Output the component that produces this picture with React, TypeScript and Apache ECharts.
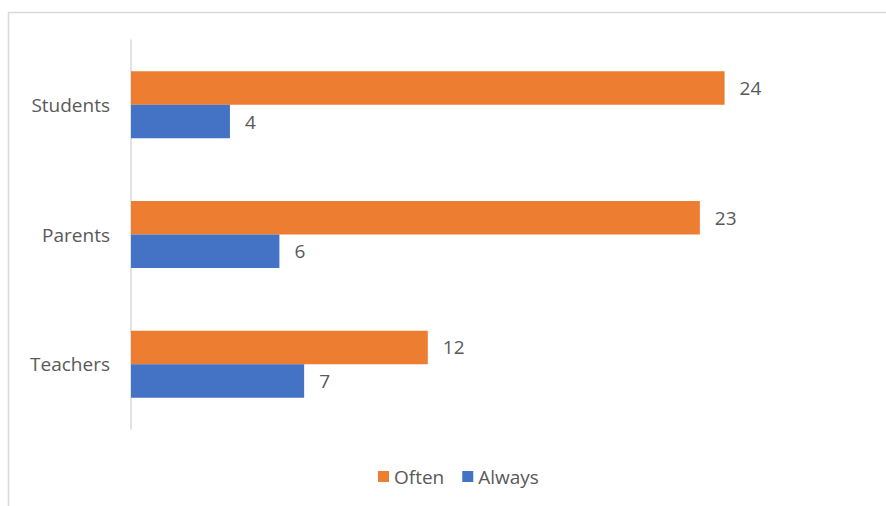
import React, { useEffect, useRef } from "react";
import * as echarts from "echarts";

const categories = ["Teachers", "Parents", "Students"];
const oftenValues = [12, 23, 24];
const alwaysValues = [7, 6, 4];
const seriesNames = ["Often", "Always"];

export default function App() {
  const ref = useRef<HTMLDivElement>(null);
  useEffect(() => {
    const chart = echarts.init(ref.current!, null, { renderer: "svg" });
    const font = "Open Sans";
    const labelStyle = {
      show: true,
      position: "right" as const,
      distance: 15,
      color: "#595959",
      fontFamily: font,
      fontSize: 19,
    };
    chart.setOption({
      animation: false,
      backgroundColor: "#ffffff",
      graphic: [
        {
          type: "rect",
          shape: { x: 8.5, y: 12.5, width: 900, height: 600 },
          style: { fill: "none", stroke: "#d9d9d9", lineWidth: 1.5 },
          silent: true,
        },
      ],
      legend: {
        data: seriesNames,
        top: 462,
        left: 373,
        itemWidth: 11,
        itemHeight: 11,
        itemGap: 18,
        icon: "rect",
        textStyle: { color: "#595959", fontFamily: font, fontSize: 19 },
      },
      grid: { left: 131, right: 13, top: 40, bottom: 77 },
      xAxis: {
        type: "value",
        min: 0,
        max: 30,
        show: false,
        splitLine: { show: false },
      },
      yAxis: {
        type: "category",
        data: categories,
        axisLine: { show: true, lineStyle: { color: "#d9d9d9", width: 1.5 } },
        axisTick: { show: false },
        axisLabel: {
          color: "#595959",
          fontFamily: font,
          fontSize: 19,
          margin: 21,
        },
      },
      series: [
        {
          name: "Often",
          type: "bar",
          data: oftenValues,
          barWidth: 33.5,
          barGap: "0%",
          itemStyle: { color: "#ED7D31" },
          label: labelStyle,
        },
        {
          name: "Always",
          type: "bar",
          data: alwaysValues,
          barWidth: 33.5,
          barGap: "0%",
          itemStyle: { color: "#4472C4" },
          label: labelStyle,
        },
      ],
    });
    return () => chart.dispose();
  }, []);
  return (
    <div
      ref={ref}
      style={{ position: "fixed", left: 0, top: 0, width: 886, height: 506 }}
    />
  );
}
